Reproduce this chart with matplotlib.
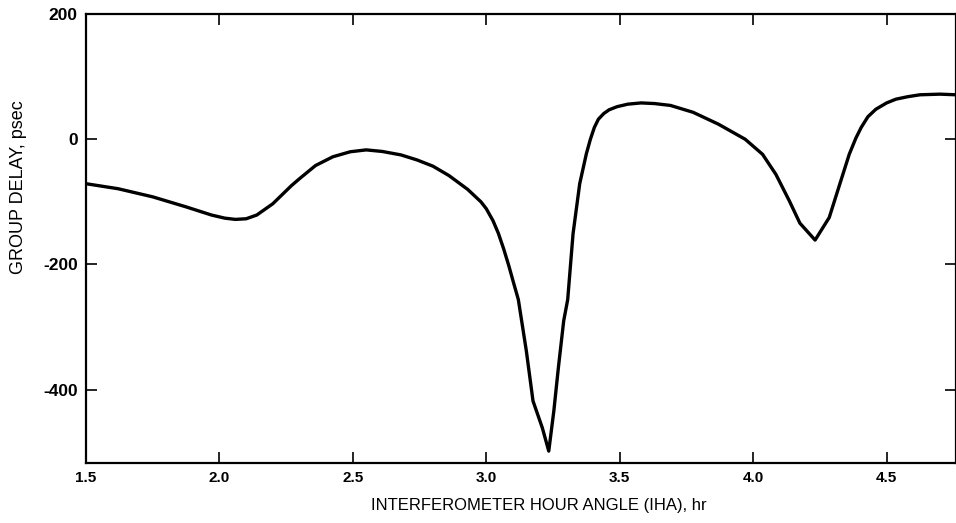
import numpy as np
import matplotlib.pyplot as plt

# Значения
iha = [1.50, 1.62, 1.75, 1.875, 1.97, 2.02, 2.06, 2.10, 2.14, 2.20, 2.27, 2.30,
       2.36, 2.425, 2.49, 2.55, 2.61, 2.68, 2.74, 2.80, 2.86, 2.93, 2.98, 3.00,
       3.025, 3.045, 3.065, 3.085, 3.10, 3.12, 3.15, 3.175, 3.21, 3.234, 3.253,
       3.27, 3.29, 3.305, 3.325, 3.35, 3.375, 3.39, 3.405, 3.42, 3.44, 3.46,
       3.49, 3.53, 3.58, 3.63, 3.69, 3.775, 3.87, 3.97, 4.035, 4.085, 4.135,
       4.175, 4.232, 4.285, 4.325, 4.36, 4.385, 4.405, 4.43, 4.46, 4.50, 4.535,
       4.58, 4.625, 4.70, 4.76]
delay = [-71, -79, -92, -108, -121, -126, -128, -127, -121, -103, -74, -63,
         -42, -28, -20, -17, -19.5, -25, -33, -43, -58, -80, -100, -111,
         -130, -150, -175, -203, -226, -256, -338, -418, -461, -498, -434,
         -365, -290, -256, -151, -71, -23, 0, 19, 32, 41, 47,
         52, 56, 58, 57, 54, 43, 24, 0, -24, -56, -98,
         -134, -161, -125, -71, -24, 2, 19, 36, 48, 58, 64,
         68, 71, 72, 71]

xticks = [1.5, 2.0, 2.5, 3.0, 3.5, 4.0, 4.5]
yticks = [200, 0, -200, -400]

plt.rcParams['font.family'] = ['Liberation Sans', 'DejaVu Sans']

fig = plt.figure(figsize=(9.56, 5.23), dpi=100)
ax = fig.add_axes([86 / 956, 1 - 463 / 523, 870 / 956, 449 / 523])

ax.plot(iha, delay, color='black', linewidth=2.4, solid_joinstyle='round')

ax.set_xlim(1.5, 4.76)
ax.set_ylim(-517, 200)
ax.set_xticks(xticks)
ax.set_xticklabels([f'{t:.1f}' for t in xticks])
ax.set_yticks(yticks)
ax.set_yticklabels([str(t) for t in yticks])

for s in ax.spines.values():
    s.set_linewidth(1.6)

ax.tick_params(direction='in', length=8, width=1.2, top=True, right=True, pad=6)
ax.tick_params(axis='x', labelsize=11)
ax.tick_params(axis='y', labelsize=12.5)
for lab in ax.get_xticklabels() + ax.get_yticklabels():
    lab.set_fontweight('bold')

ax.set_xlabel('INTERFEROMETER HOUR ANGLE (IHA), hr', fontsize=12)
ax.set_ylabel('GROUP DELAY, psec', fontsize=13)
ax.xaxis.set_label_coords(0.52, -0.078)
ax.yaxis.set_label_coords(-0.068, 0.615)

fig.savefig('out.png', dpi=100)
